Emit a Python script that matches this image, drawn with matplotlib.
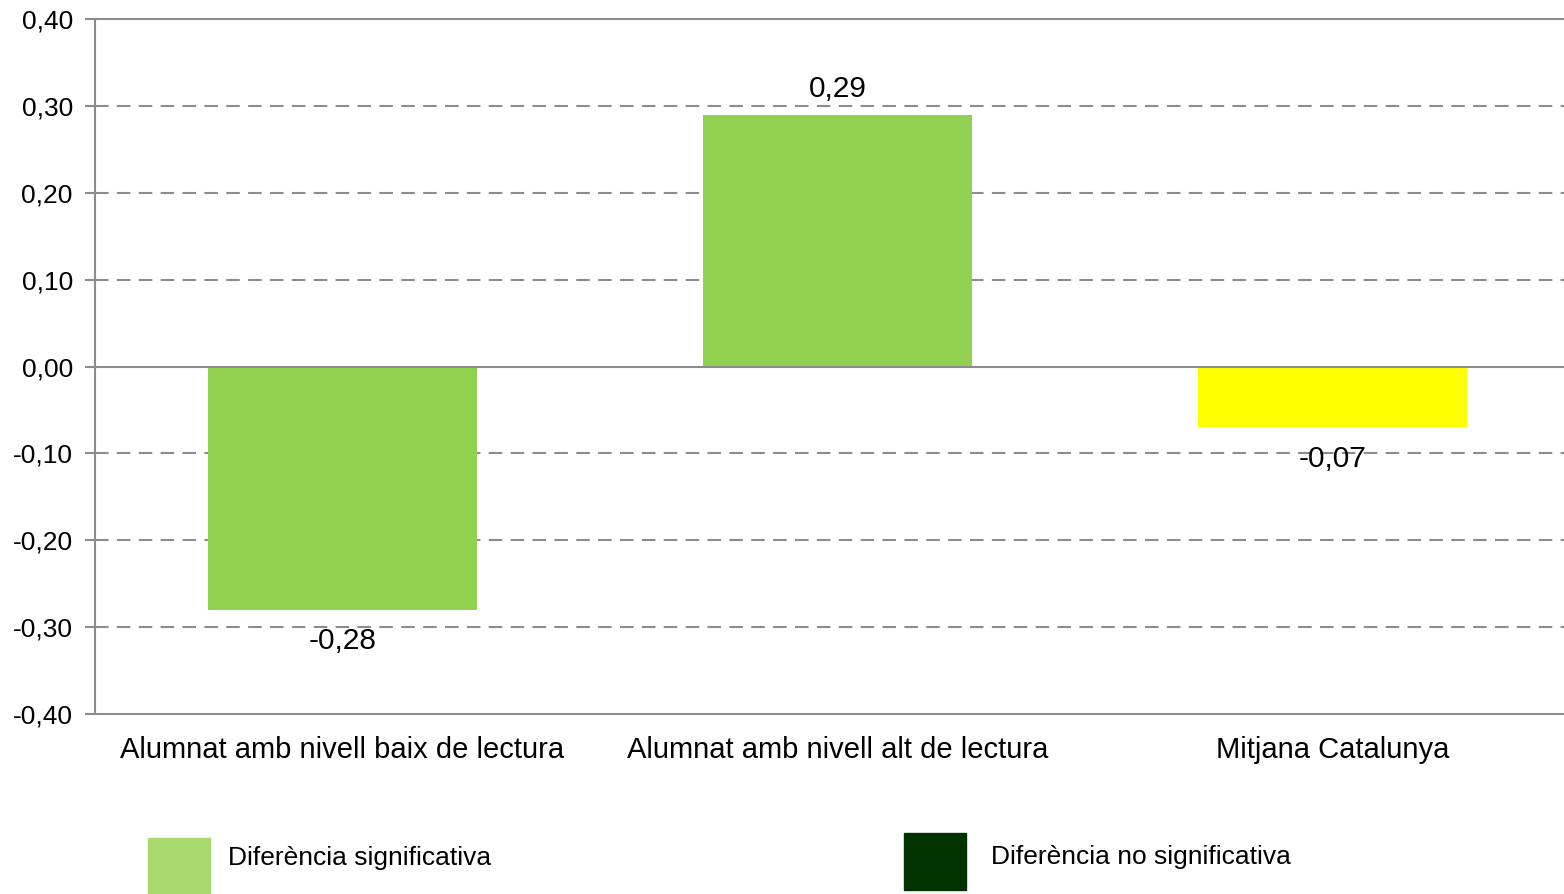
import matplotlib.pyplot as plt
from matplotlib.patches import Rectangle
from matplotlib.ticker import FuncFormatter

plt.rcParams['font.family'] = ['Liberation Sans', 'DejaVu Sans']

categories = ['Alumnat amb nivell baix de lectura', 'Alumnat amb nivell alt de lectura', 'Mitjana Catalunya']
values = [-0.28, 0.29, -0.07]
bar_colors = ['#92D050', '#92D050', '#FFFF00']
legend_labels = ['Diferència significativa', 'Diferència no significativa']
legend_colors = ['#A9D86E', '#003300']

W, H = 1564, 894
fig = plt.figure(figsize=(W / 100, H / 100), dpi=100)
# axes spans x 95..1580 px, y 19..714 px
ax = fig.add_axes([95 / W, 1 - 714 / H, (1580 - 95) / W, (714 - 19) / H])

x = range(len(categories))
ax.bar(x, values, width=0.543, color=bar_colors, zorder=3)
ax.set_xlim(-0.5, 2.5)
ax.set_ylim(-0.4, 0.4)
ax.set_yticks([i / 10 for i in range(-4, 5)])
ax.yaxis.set_major_formatter(FuncFormatter(lambda v, p: ('%.2f' % v).replace('.', ',').replace('-0,00', '0,00')))
ax.set_xticks(list(x))
ax.set_xticklabels(categories)

for t in ax.get_yticks():
    if abs(t) < 1e-9 or abs(abs(t) - 0.4) < 1e-9:
        continue
    ax.axhline(t, color='#8C8C8C', lw=1.5, ls=(0, (6.5, 4)), zorder=1)
ax.axhline(0, color='#8C8C8C', lw=1.5, zorder=4)
ax.axhline(0.4, color='#8C8C8C', lw=1.5, zorder=4, clip_on=False)

for s in ['top', 'right']:
    ax.spines[s].set_visible(False)
for s in ['left', 'bottom']:
    ax.spines[s].set_color('#8C8C8C')
    ax.spines[s].set_linewidth(1.5)
ax.tick_params(axis='y', length=7, width=1.5, color='#8C8C8C', labelsize=19, pad=9)
ax.tick_params(axis='x', length=0, labelsize=21, pad=16)

for xi, v in zip(x, values):
    lbl = ('%.2f' % v).replace('.', ',')
    off = 0.0295 if v > 0 else -0.0365
    ax.text(xi, v + off, lbl, ha='center', va='center', fontsize=21.5, zorder=5)

# legend
fig.add_artist(Rectangle((148 / W, 1 - 894 / H), 62 / W, 56 / H, color=legend_colors[0], transform=fig.transFigure))
fig.add_artist(Rectangle((904 / W, 1 - 890 / H), 62 / W, 57 / H, color=legend_colors[1], transform=fig.transFigure))
fig.text(228 / W, 1 - 858 / H, legend_labels[0], fontsize=19, va='center')
fig.text(991 / W, 1 - 857 / H, legend_labels[1], fontsize=19, va='center')

fig.savefig('out.png', dpi=100)
